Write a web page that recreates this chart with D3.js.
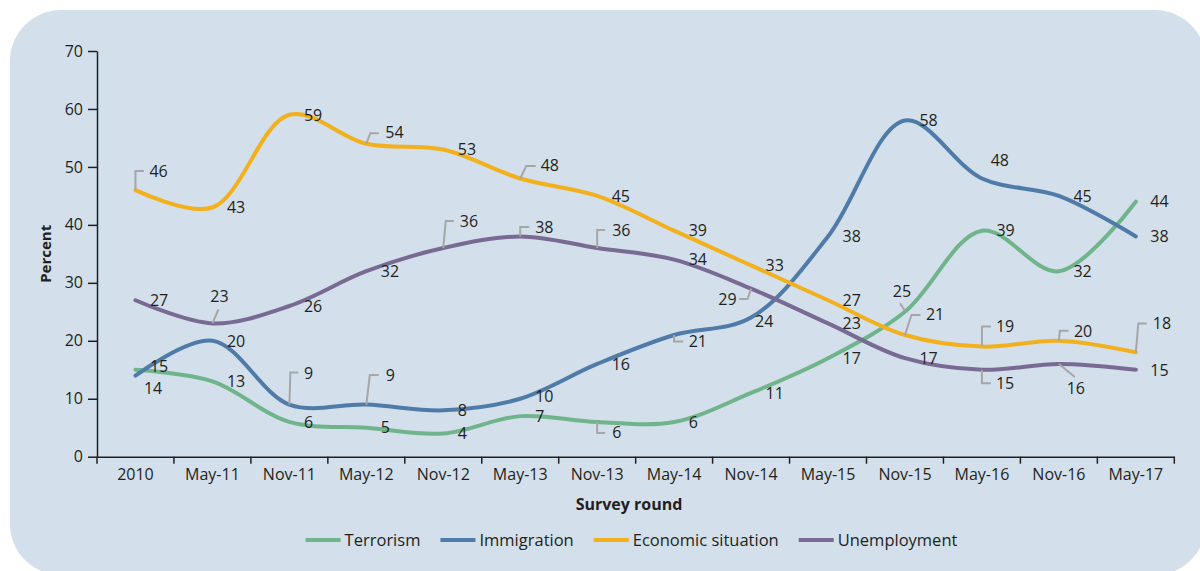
<!DOCTYPE html>
<html>
<head>
<meta charset="utf-8">
<script src="https://cdn.jsdelivr.net/npm/d3@7"></script>
<style>
  body { margin: 0; background: #ffffff; }
  svg text { font-family: "Open Sans", Lato, sans-serif; fill: #231f20; }
</style>
</head>
<body>
<svg id="chart" width="1200" height="571"></svg>
<script>
// Survey rounds along the x axis
const rounds = ["2010", "May-11", "Nov-11", "May-12", "Nov-12", "May-13", "Nov-13",
                "May-14", "Nov-14", "May-15", "Nov-15", "May-16", "Nov-16", "May-17"];

// Share of respondents naming each issue (percent)
const terrorism         = [15, 13, 6, 5, 4, 7, 6, 6, 11, 17, 25, 39, 32, 44];
const immigration       = [14, 20, 9, 9, 8, 10, 16, 21, 24, 38, 58, 48, 45, 38];
const economicSituation = [46, 43, 59, 54, 53, 48, 45, 39, 33, 27, 21, 19, 20, 18];
const unemployment      = [27, 23, 26, 32, 36, 38, 36, 34, 29, 23, 17, 15, 16, 15];

const seriesNames = ["Terrorism", "Immigration", "Economic situation", "Unemployment"];
const yTicks = [0, 10, 20, 30, 40, 50, 60, 70];

const seriesValues = [terrorism, immigration, economicSituation, unemployment];
const seriesColors = ["#6fb48b", "#4f7ba8", "#f2b11c", "#786a92"];

// Value label placement: offset of the label from its point, with an optional leader path
const defaultLabel = { dx: 14.5, dy: 0, anchor: "start" };
const labelOverrides = [
  ["Terrorism", 0,  { dx: 14.5, dy: -4 }],
  ["Terrorism", 5,  { dx: 15, dy: 0.5 }],
  ["Terrorism", 6,  { dx: 15, dy: 10.5, leader: [[0, 0], [0, 11], [8, 11]] }],
  ["Terrorism", 10, { dx: -3, dy: -21, anchor: "middle", leader: [[0, -1], [-5, -8.5]] }],
  ["Immigration", 0,  { dx: 8.5, dy: 12.5 }],
  ["Immigration", 2,  { dx: 14.6, dy: -31, leader: [[0, 0], [1, -32], [9, -32]] }],
  ["Immigration", 3,  { dx: 19.4, dy: -29.5, leader: [[0, 0], [3.5, -29.5], [12.5, -29.5]] }],
  ["Immigration", 5,  { dx: 15, dy: -2.5 }],
  ["Immigration", 7,  { dx: 14.6, dy: 6.5, leader: [[0, 0], [0, 6.5], [9, 6.5]] }],
  ["Immigration", 8,  { dx: 4, dy: 4 }],
  ["Immigration", 11, { dx: 8.8, dy: -18.5 }],
  ["Economic situation", 0,  { dx: 14, dy: -19, leader: [[0, 0], [0, -19], [8.5, -19]] }],
  ["Economic situation", 3,  { dx: 19, dy: -11, leader: [[0, 0], [4, -10.5], [12.5, -10.5]] }],
  ["Economic situation", 5,  { dx: 20.5, dy: -13, leader: [[0, 0], [6, -12.5], [15.5, -12.5]] }],
  ["Economic situation", 10, { dx: 21, dy: -21, leader: [[0, 0], [6.5, -20], [15.5, -20]] }],
  ["Economic situation", 11, { dx: 14, dy: -20, leader: [[0, 0], [0, -20], [9, -20]] }],
  ["Economic situation", 12, { dx: 15, dy: -10, leader: [[0, 0], [1, -10], [9.5, -10]] }],
  ["Economic situation", 13, { dx: 17, dy: -29, leader: [[0, 0], [2.5, -29], [11, -29]] }],
  ["Unemployment", 1,  { dx: 7, dy: -26.7, anchor: "middle", leader: [[0, 0], [6, -14]] }],
  ["Unemployment", 4,  { dx: 16.5, dy: -26.5, leader: [[0, 0], [2.5, -27], [10.5, -27]] }],
  ["Unemployment", 5,  { dx: 15, dy: -9, leader: [[0, 0], [0, -9.5], [9, -9.5]] }],
  ["Unemployment", 6,  { dx: 15, dy: -17.5, leader: [[0, 0], [0, -18], [8, -18]] }],
  ["Unemployment", 8,  { dx: -14.5, dy: 10.5, anchor: "end", leader: [[0, 0], [-3.5, 10.5], [-12, 10.5]] }],
  ["Unemployment", 11, { dx: 14, dy: 13.5, leader: [[0, 0], [0, 13.5], [9, 13.5]] }],
  ["Unemployment", 12, { dx: 17, dy: 24.5, anchor: "middle", leader: [[0, 0], [16, 13]] }]
];

const svg = d3.select("#chart");

// Rounded background panel
svg.append("rect")
  .attr("x", 10).attr("y", 10)
  .attr("width", 1196).attr("height", 565)
  .attr("rx", 51).attr("ry", 51)
  .attr("fill", "#d3dfeb");

const x = d3.scaleBand().domain(rounds).range([97, 1174.3]);
const y = d3.scaleLinear().domain([0, 70]).range([456.7, 51]);
const cx = d => x(d) + x.bandwidth() / 2;

// Y axis
const yAxis = svg.append("g")
  .attr("transform", `translate(${x.range()[0]},0)`)
  .call(d3.axisLeft(y).tickValues(yTicks).tickSize(9).tickPadding(5).tickSizeOuter(0));
yAxis.select(".domain").attr("stroke", "#231f20").attr("stroke-width", 1.5);
yAxis.selectAll(".tick line").attr("stroke", "#231f20").attr("stroke-width", 1.5);
yAxis.selectAll(".tick text").attr("font-size", 16).attr("font-family", null).attr("fill", "#231f20");

// X axis: labels centred in each band, tick marks on band boundaries
const xAxis = svg.append("g")
  .attr("transform", `translate(0,${y(0)})`)
  .call(d3.axisBottom(x).tickSize(0).tickPadding(12).tickSizeOuter(0));
xAxis.select(".domain").attr("stroke", "#231f20").attr("stroke-width", 1.5);
xAxis.selectAll(".tick text").attr("font-size", 16).attr("font-family", null).attr("fill", "#231f20");
const boundaries = rounds.map(d => x(d)).concat([x.range()[1]]);
xAxis.selectAll("line.boundary")
  .data(boundaries)
  .join("line")
  .attr("class", "boundary")
  .attr("x1", d => d).attr("x2", d => d)
  .attr("y1", 0).attr("y2", 7)
  .attr("stroke", "#231f20").attr("stroke-width", 1.5);

// Axis titles
svg.append("text")
  .attr("transform", `translate(51,${(y(0) + y(70)) / 2}) rotate(-90)`)
  .attr("text-anchor", "middle")
  .attr("font-size", 15).attr("font-weight", "bold")
  .text("Percent");
svg.append("text")
  .attr("x", 629).attr("y", 510)
  .attr("text-anchor", "middle")
  .attr("font-size", 16).attr("font-weight", "bold")
  .text("Survey round");

// Smoothed series lines
const line = d3.line()
  .x((v, i) => cx(rounds[i]))
  .y(v => y(v))
  .curve(d3.curveCatmullRom.alpha(0.5));

svg.append("g").selectAll("path")
  .data(seriesValues)
  .join("path")
  .attr("d", vals => line(vals))
  .attr("fill", "none")
  .attr("stroke", (v, i) => seriesColors[i])
  .attr("stroke-width", 4)
  .attr("stroke-linecap", "round");

// Value labels
const labels = [];
seriesNames.forEach((name, s) => {
  seriesValues[s].forEach((v, i) => {
    const o = labelOverrides.find(r => r[0] === name && r[1] === i);
    const spec = Object.assign({}, defaultLabel, o ? o[2] : {});
    labels.push({ px: cx(rounds[i]), py: y(v), value: v, spec });
  });
});

svg.append("g").selectAll("path")
  .data(labels.filter(d => d.spec.leader))
  .join("path")
  .attr("d", d => d3.line()(d.spec.leader.map(p => [d.px + p[0], d.py + p[1]])))
  .attr("fill", "none")
  .attr("stroke", "#a6a6a6")
  .attr("stroke-width", 2);

svg.append("g").selectAll("text")
  .data(labels)
  .join("text")
  .attr("x", d => d.px + d.spec.dx)
  .attr("y", d => d.py + d.spec.dy)
  .attr("dy", "0.36em")
  .attr("text-anchor", d => d.spec.anchor)
  .attr("font-size", 16)
  .text(d => d.value);

// Legend
const legend = svg.append("g");
let lx = 0;
seriesNames.forEach((name, i) => {
  const g = legend.append("g");
  g.append("line")
    .attr("x1", 0).attr("x2", 35).attr("y1", 0).attr("y2", 0)
    .attr("stroke", seriesColors[i]).attr("stroke-width", 4);
  const t = g.append("text")
    .attr("x", 39).attr("dy", "0.36em")
    .attr("font-size", 16.5)
    .text(name);
  const w = 39 + t.node().getComputedTextLength();
  g.attr("transform", `translate(${lx},0)`);
  lx += w + 20;
});
const legendWidth = lx - 20;
legend.attr("transform", `translate(${631.5 - legendWidth / 2},540)`);
</script>
</body>
</html>
